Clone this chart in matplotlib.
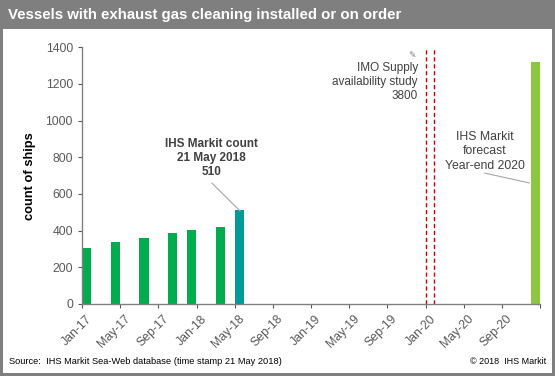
import matplotlib.pyplot as plt
import matplotlib.transforms as mtransforms
from matplotlib.patches import Rectangle

plt.rcParams['font.family'] = ['Liberation Sans', 'DejaVu Sans']

# data
bar_months = ['2017-01', '2017-04', '2017-07', '2017-10', '2017-12', '2018-03', '2018-05', '2020-12']
counts = [305, 338, 360, 387, 403, 420, 510, 1320]
bar_colors = ['#00ac4e'] * 6 + ['#009a9a', '#8dc63f']
tick_labels = ['Jan-17', 'May-17', 'Sep-17', 'Jan-18', 'May-18', 'Sep-18',
               'Jan-19', 'May-19', 'Sep-19', 'Jan-20', 'May-20', 'Sep-20', '']
imo_dates = ['2020-01-01', '2020-01-27']


def month_index(s):
    parts = [int(p) for p in s.split('-')]
    m = (parts[0] - 2017) * 12 + parts[1] - 1
    if len(parts) == 3:
        m += (parts[2] - 1) / 31
    return m


grey = '#595959'
txt = '#404040'
fig = plt.figure(figsize=(5.55, 3.76), dpi=100)

# frame and title bar
fig.patches.append(Rectangle((0, 0), 1, 1, transform=fig.transFigure,
                             facecolor='#7f7f7f', edgecolor='none', zorder=-2))
fig.patches.append(Rectangle((3 / 555, 3 / 376), 549 / 555, 344 / 376, transform=fig.transFigure,
                             facecolor='white', edgecolor='none', zorder=-1))
fig.text(8 / 555, 1 - 15 / 376, 'Vessels with exhaust gas cleaning installed or on order',
         color='white', fontsize=10.8, fontweight='bold', va='center', ha='left')

ax = fig.add_axes([82 / 555, 1 - 304 / 376, 458 / 555, 256.7 / 376])
x = [month_index(m) + 0.5 for m in bar_months]
ax.bar(x, counts, width=0.95, color=bar_colors, zorder=2)

for d in imo_dates:
    ax.axvline(month_index(d), color='#cc0000', lw=1, ls=(0, (3, 2)), zorder=1)

ax.set_xlim(0, 48)
ax.set_ylim(0, 1400)
ax.set_xticks(range(0, 49, 4))
ax.set_xticklabels(tick_labels, rotation=45, ha='right', rotation_mode='anchor')
ax.set_yticks(range(0, 1401, 200))
ax.tick_params(colors=grey, labelsize=8.8, length=3, width=0.8)
ax.tick_params(axis='x', pad=2)
shift = mtransforms.ScaledTranslation(4 / 100, -2 / 100, fig.dpi_scale_trans)
for lab in ax.get_xticklabels():
    lab.set_transform(lab.get_transform() + shift)
for s in ['top', 'right']:
    ax.spines[s].set_visible(False)
for s in ['left', 'bottom']:
    ax.spines[s].set_color('#808080')
    ax.spines[s].set_linewidth(1)
ax.set_ylabel('count of ships', fontsize=9.3, fontweight='bold', color='black', labelpad=7)

# callouts
ax.text(13.6, 685, 'IHS Markit count\n21 May 2018\n510', ha='center', va='bottom',
        fontsize=8.5, fontweight='bold', color=txt, linespacing=1.27)
ax.annotate('', xy=(16.57, 507), xytext=(13.6, 660),
            arrowprops=dict(arrowstyle='-', color='#a6a6a6', lw=0.8, shrinkA=0, shrinkB=0))
ax.text(35.2, 1322, 'IMO Supply\navailability study\n3800',
        ha='right', va='top', fontsize=8.5, color=txt, linespacing=1.27)
ax.text(35.0, 1378, '\u270e', ha='right', va='top', fontsize=6.5, color='#808080')
ax.text(42.2, 722, 'IHS Markit\nforecast\nYear-end 2020', ha='center', va='bottom',
        fontsize=8.8, color=txt, linespacing=1.27)
ax.annotate('', xy=(46.9, 660), xytext=(42.2, 714),
            arrowprops=dict(arrowstyle='-', color='#a6a6a6', lw=0.8, shrinkA=0, shrinkB=0))

fig.text(9 / 555, 1 - 362 / 376, 'Source:  IHS Markit Sea-Web database (time stamp 21 May 2018)',
         fontsize=6.7, color='black', va='center', ha='left')
fig.text(546 / 555, 1 - 362 / 376, '\u00a9 2018  IHS Markit',
         fontsize=6.5, color='black', va='center', ha='right')

fig.savefig('out.png', dpi=100)
